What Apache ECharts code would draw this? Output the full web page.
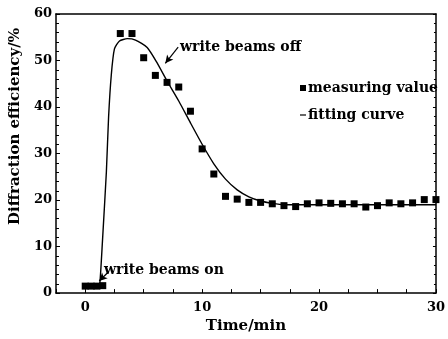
<!DOCTYPE html>
<html><head><meta charset="utf-8">
<script src="https://cdn.jsdelivr.net/npm/echarts@6/dist/echarts.min.js"></script>
<style>html,body{margin:0;padding:0;background:#fff}#c{width:448px;height:339px}</style>
</head><body><div id="c"></div>
<script>
// measured data (Time/min, Diffraction efficiency/%)
var measX = [0, 0.5, 1, 1.5, 3, 4, 5, 6, 7, 8, 9, 10, 11, 12, 13, 14, 15, 16, 17, 18, 19, 20, 21, 22, 23, 24, 25, 26, 27, 28, 29, 30];
var measY = [1.5, 1.5, 1.5, 1.6, 55.8, 55.8, 50.6, 46.8, 45.3, 44.3, 39.1, 31.0, 25.6, 20.8, 20.2, 19.5, 19.5, 19.2, 18.8, 18.6, 19.2, 19.4, 19.3, 19.2, 19.2, 18.5, 18.8, 19.4, 19.2, 19.4, 20.1, 20.1];
// fitting curve
var fitX = [0, 1.2, 1.25, 1.34, 1.53, 1.81, 2.0, 2.23, 2.5, 2.93, 3.6, 4.3, 5.3, 6.1, 7.0, 8.0, 9.0, 10.0, 11.0, 12.0, 13.0, 14.0, 15.0, 16.0, 17.0, 20, 25, 30];
var fitY = [1.5, 1.5, 2.1, 5.3, 13.6, 26.1, 37.9, 46.9, 52.5, 54.2, 54.7, 54.4, 52.8, 49.7, 45.6, 41.3, 36.6, 32.0, 27.8, 24.5, 22.2, 20.7, 19.8, 19.3, 19.0, 19.0, 19.0, 19.0];
var xLabels = [0, 10, 20, 30];
var yLabels = [0, 10, 20, 30, 40, 50, 60];
var seriesNames = ['measuring value', 'fitting curve'];
var notes = ['write beams off', 'write beams on'];
// arrow endpoints in data units: [fromX, fromY, toX, toY]
var arrowOff = [7.95, 52.9, 6.85, 49.4];
var arrowOn = [2.0, 4.6, 1.2, 2.6];

var FONT = '"DejaVu Serif", "Liberation Serif", serif';
var txt = {fontFamily: FONT, fontWeight: 'bold', fontSize: 13, color: '#000'};
function pairs(a, b) { return a.map(function (v, i) { return [v, b[i]]; }); }

var chart = echarts.init(document.getElementById('c'), null, {renderer: 'canvas'});
chart.setOption({
  animation: false,
  backgroundColor: '#fff',
  grid: {left: 52, right: 6, top: 14, bottom: 37, containLabel: false},
  xAxis: [{
    type: 'value', min: -2.5, max: 30, interval: 2.5,
    name: 'Time/min', nameLocation: 'middle', nameGap: 23,
    nameTextStyle: {fontFamily: FONT, fontWeight: 'bold', fontSize: 15, color: '#000'},
    axisLine: {onZero: false, lineStyle: {color: '#000', width: 1.5}},
    axisTick: {inside: true, length: 4, lineStyle: {color: '#000'}},
    axisLabel: Object.assign({margin: 8, formatter: function (v) { return xLabels.indexOf(v) >= 0 ? String(v) : ''; }}, txt),
    splitLine: {show: false}
  }, {
    type: 'value', position: 'top', min: -2.5, max: 30, interval: 2.5,
    axisLine: {show: true, onZero: false, lineStyle: {color: '#000', width: 1.5}},
    axisTick: {show: false}, axisLabel: {show: false}, splitLine: {show: false}
  }],
  yAxis: [{
    type: 'value', min: 0, max: 60, interval: 10,
    name: 'Diffraction efficiency/%', nameLocation: 'middle', nameGap: 22,
    nameTextStyle: {fontFamily: FONT, fontWeight: 'bold', fontSize: 15, color: '#000', padding: [0, 0, 0, 54]},
    axisLine: {show: true, onZero: false, lineStyle: {color: '#000', width: 1.5}},
    axisTick: {inside: true, length: 4, lineStyle: {color: '#000'}},
    minorTick: {show: true, splitNumber: 5, length: 3, lineStyle: {color: '#000'}},
    axisLabel: Object.assign({margin: 4, formatter: function (v) { return yLabels.indexOf(v) >= 0 ? String(v) : ''; }}, txt),
    splitLine: {show: false}
  }, {
    type: 'value', position: 'right', min: 0, max: 60, interval: 10,
    axisLine: {show: true, onZero: false, lineStyle: {color: '#000', width: 1.5}},
    axisTick: {inside: true, length: 3, lineStyle: {color: '#000'}},
    minorTick: {show: true, splitNumber: 5, length: 2, lineStyle: {color: '#000'}},
    axisLabel: {show: false}, splitLine: {show: false}
  }],
  legend: {
    orient: 'vertical', left: 300, top: 81, itemGap: 13,
    itemWidth: 6, itemHeight: 6, padding: 0,
    textStyle: Object.assign({padding: [0, 0, 0, -3]}, txt, {fontSize: 14}),
    data: [
      {name: seriesNames[0], icon: 'rect'},
      {name: seriesNames[1], icon: 'path://M0,4 L10,4 L10,6 L0,6 Z'}
    ]
  },
  series: [{
    name: seriesNames[0], type: 'scatter', symbol: 'rect', symbolSize: 7,
    itemStyle: {color: '#000', opacity: 1}, data: pairs(measX, measY), z: 3
  }, {
    name: seriesNames[1], type: 'line', showSymbol: false, symbol: 'none',
    smooth: 0.2,
    lineStyle: {color: '#000', width: 1.4}, itemStyle: {color: '#000'},
    data: pairs(fitX, fitY), z: 2,
    markLine: {
      silent: true, symbol: ['none', 'arrow'], symbolSize: [6, 8],
      lineStyle: {color: '#000', width: 1.2, type: 'solid'}, label: {show: false},
      data: [
        [{coord: [arrowOff[0], arrowOff[1]]}, {coord: [arrowOff[2], arrowOff[3]]}],
        [{coord: [arrowOn[0], arrowOn[1]]}, {coord: [arrowOn[2], arrowOn[3]]}]
      ]
    }
  }],
  graphic: [
    {type: 'text', left: 180, top: 40, style: {text: notes[0], font: 'bold 14px ' + FONT, fill: '#000'}},
    {type: 'text', left: 104, top: 263, style: {text: notes[1], font: 'bold 14px ' + FONT, fill: '#000'}}
  ]
});
</script></body></html>
